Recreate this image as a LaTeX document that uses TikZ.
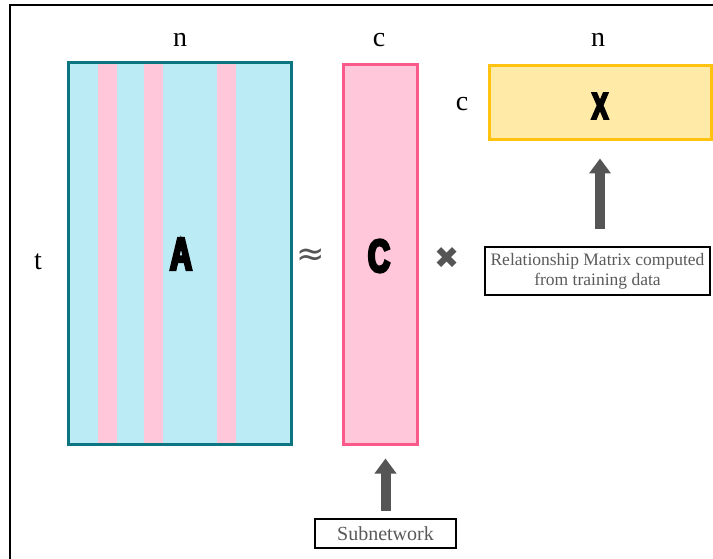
\documentclass[tikz,border=0pt]{standalone}
\usepackage{fontspec}
\setmainfont{Liberation Serif}
\newfontfamily\impactfont{Liberation Sans}[UprightFont=* Bold, FakeStretch=0.66, FakeBold=6]
\newfontfamily\symfont{DejaVu Sans}
\usetikzlibrary{arrows.meta}
\definecolor{acyan}{HTML}{BBEBF5}
\definecolor{ateal}{HTML}{0B7682}
\definecolor{cpink}{HTML}{FFC7D9}
\definecolor{cborder}{HTML}{FA5A8A}
\definecolor{xfill}{HTML}{FFEAA8}
\definecolor{xborder}{HTML}{FFC20E}
\definecolor{agray}{HTML}{555555}
\definecolor{tgray}{HTML}{5A5A5A}
\tikzset{
  matbox/.style={inner sep=0pt, line width=3pt},
  dimlabel/.style={font=\fontsize{28}{32}\selectfont, inner sep=0pt},
  matname/.style={font=\impactfont\fontsize{46}{50}\selectfont, inner sep=0pt},
  notebox/.style={draw=black, line width=1.6pt, inner sep=0pt, align=center, text=tgray},
  bigarrow/.style={draw=agray, line width=10pt, -{Triangle[width=21pt,length=15pt]}},
  opsym/.style={text=agray, inner sep=0pt}
}
\begin{document}
\begin{tikzpicture}[x=1pt,y=-1pt]
\useasboundingbox (0,0) rectangle (713,559);
\fill[white] (0,0) rectangle (713,559);
% outer frame (only top and left visible)
\draw[line width=2pt, black] (713,5) -- (10,5) -- (10,559);

% matrix A
\node[matbox, fill=acyan, minimum width=220pt, minimum height=379pt] (A) at (180,253.5) {};
\fill[cpink] (98,64) rectangle (117,443);
\fill[cpink] (144,64) rectangle (163,443);
\fill[cpink] (217,64) rectangle (236,443);
\draw[ateal, line width=3pt] (A.north west) rectangle (A.south east);
\node[matname] (Alabel) at (181,254) {A};

% matrix C
\node[matbox, draw=cborder, fill=cpink, minimum width=74pt, minimum height=379pt] (C) at (380,254.5) {};
\node[matname] (Clabel) at (379,256) {C};

% matrix X
\node[matbox, draw=xborder, fill=xfill, minimum width=222pt, minimum height=74pt] (X) at (600,103) {};
\node[matname, font=\impactfont\fontsize{37}{40}\selectfont] (Xlabel) at (600,106) {X};

% dimension labels
\node[dimlabel] (n1) at (180,40) {n};
\node[dimlabel] (c1) at (379,40) {c};
\node[dimlabel] (n2) at (598,40) {n};
\node[dimlabel] (c2) at (462,104) {c};
\node[dimlabel] (t1) at (38,262) {t};

% operators
\node[opsym, font=\symfont\fontsize{34}{36}\selectfont] (approx) at (311,257) {≈};
\node[opsym, font=\symfont\fontsize{30}{32}\selectfont] (times) at (447,258) {✖};

% note boxes
\node[notebox, minimum width=225pt, minimum height=48pt, font=\fontsize{17.5}{20}\selectfont] (rel) at (597.5,271)
  {Relationship Matrix computed\\from training data};
\node[notebox, minimum width=141pt, minimum height=29pt, font=\fontsize{20}{22}\selectfont] (sub) at (385.5,533.5) {Subnetwork};

% arrows
\draw[bigarrow, shorten <=17pt, shorten >=17pt] (X.south |- rel.north) -- (X.south);
\draw[bigarrow, shorten <=7pt, shorten >=13pt] (sub.north) -- (sub.north |- C.south);
\end{tikzpicture}
\end{document}
